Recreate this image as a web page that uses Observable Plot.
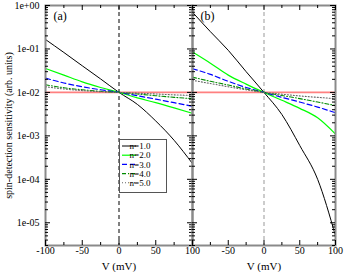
<!DOCTYPE html>
<html><head><meta charset="utf-8">
<script src="https://cdn.jsdelivr.net/npm/d3@7"></script>
<script src="https://cdn.jsdelivr.net/npm/@observablehq/plot@0.6"></script>
<style>
body{margin:0;background:#fff;}
#c{position:relative;width:346px;height:272px;background:#fff;}
#c svg{position:absolute;left:0;top:0;}
</style></head><body><div id="c"></div>
<script>
// ---- data ----
const V = [-100, -75, -50, -25, 0, 25, 50, 75, 100];
const seriesNames = ["n=1.0", "n=2.0", "n=3.0", "n=4.0", "n=5.0"];
// panel (a)
const a_n1 = [0.165, 0.083, 0.041, 0.0204, 0.01, 0.0053, 0.0022, 0.00079, 0.00023];
const a_n2 = [0.0356, 0.025, 0.0175, 0.013, 0.01, 0.0075, 0.0058, 0.0044, 0.0033];
const a_n3 = [0.0213, 0.0165, 0.0135, 0.0115, 0.01, 0.0084, 0.007, 0.0058, 0.0048];
const a_n4 = [0.015, 0.0128, 0.0115, 0.0106, 0.01, 0.0092, 0.0084, 0.0077, 0.0072];
const a_n5 = [0.0135, 0.012, 0.011, 0.0104, 0.01, 0.0096, 0.0092, 0.0088, 0.0085];
// panel (b)
const b_n1 = [0.7, 0.25, 0.093, 0.03, 0.01, 0.0031, 0.0006, 0.0001, 0.000005];
const b_n2 = [0.085, 0.047, 0.025, 0.0155, 0.01, 0.0066, 0.0043, 0.0026, 0.0011];
const b_n3 = [0.035, 0.026, 0.018, 0.013, 0.01, 0.0077, 0.006, 0.0046, 0.0034];
const b_n4 = [0.0224, 0.018, 0.0148, 0.012, 0.01, 0.0085, 0.0072, 0.006, 0.005];
const b_n5 = [0.019, 0.016, 0.0135, 0.0115, 0.01, 0.0091, 0.0083, 0.0077, 0.0072];
// reference level (red horizontal line)
const refV = [-100, 100];
const refLevel = [0.01, 0.01];
// ticks
const yDomain = [3e-6, 1];
const yMajor = [1e-5, 1e-4, 1e-3, 1e-2, 1e-1, 1];
const xMajor = [-100, -50, 0, 50, 100];
const xMinor = [-75, -25, 25, 75];
const xLabelsA = [-100, -50, 0, 50, 100];
const xLabelsB = [-50, 0, 50, 100];

// ---- styles ----
const styles = [
  {stroke: "#000000", strokeWidth: 1, dash: null},
  {stroke: "#00ff00", strokeWidth: 1.2, dash: null},
  {stroke: "#0000ff", strokeWidth: 1.2, dash: "5,3"},
  {stroke: "#008b00", strokeWidth: 1.1, dash: "4,2,1,2"},
  {stroke: "#666666", strokeWidth: 1.1, dash: "1,2"}
];
const yMinor = [];
for (let e = -6; e <= -1; e++) for (let m = 2; m <= 9; m++) {
  const v = m * Math.pow(10, e);
  if (v >= yDomain[0] && v < 1) yMinor.push(v);
}
const fmt = d => { const e = Math.round(Math.log10(d)); return "1e" + (e < 0 ? "-" : "+") + String(Math.abs(e)).padStart(2, "0"); };

const W = 346, H = 272, MT = 5, MB = 27;
const IH = H - MT - MB;
const FONT = "'Liberation Serif', 'Times New Roman', serif";

function rows(vals) { return V.map((v, i) => ({V: v, s: vals[i]})); }

function panel({x0, x1, data, tag, xLabels, showY, zeroColor}) {
  const iw = x1 - x0;
  const marks = [
    Plot.line(refV.map((v, i) => ({V: v, s: refLevel[i]})), {x: "V", y: "s", stroke: "#ff8080", strokeWidth: 1.6}),
    Plot.ruleX([0], {stroke: zeroColor, strokeDasharray: "4,3", strokeWidth: 1}),
    ...data.map((vals, k) => Plot.line(rows(vals), {x: "V", y: "s", curve: "monotone-x",
      stroke: styles[k].stroke, strokeWidth: styles[k].strokeWidth, strokeDasharray: styles[k].dash})),
    Plot.frame({stroke: "#8a8a8a", strokeWidth: 2}),
    // inward ticks on all four sides
    Plot.tickY(yMajor, {y: d => d, insetRight: iw - 5, stroke: "#000"}),
    Plot.tickY(yMinor, {y: d => d, insetRight: iw - 3, stroke: "#000"}),
    Plot.tickY(yMajor, {y: d => d, insetLeft: iw - 5, stroke: "#000"}),
    Plot.tickY(yMinor, {y: d => d, insetLeft: iw - 3, stroke: "#000"}),
    Plot.tickX(xMajor, {x: d => d, insetTop: IH - 5, stroke: "#000"}),
    Plot.tickX(xMinor, {x: d => d, insetTop: IH - 3, stroke: "#000"}),
    Plot.tickX(xMajor, {x: d => d, insetBottom: IH - 5, stroke: "#000"}),
    Plot.tickX(xMinor, {x: d => d, insetBottom: IH - 3, stroke: "#000"}),
    Plot.axisX({ticks: xLabels, tickFormat: d => String(d), tickSize: 0, tickPadding: 1.5, anchor: "bottom", label: null, fontSize: 10}),
    Plot.text(["V (mV)"], {text: d => d, frameAnchor: "bottom", textAnchor: "middle", lineAnchor: "middle", dy: 20.5, fontSize: 11}),
    Plot.text([tag], {text: d => d, frameAnchor: "top-left", textAnchor: "start", lineAnchor: "top", dx: 8, dy: 6, fontSize: 12})
  ];
  if (showY) {
    marks.push(Plot.axisY({ticks: yMajor, tickFormat: fmt, tickSize: 0, tickPadding: 6, label: null, fontSize: 10}));
    marks.push(Plot.text(["spin-detection sensitivity (arb. units)"], {text: d => d, frameAnchor: "left", textAnchor: "middle", lineAnchor: "middle", dx: -37, rotate: -90, fontSize: 10}));
  }
  return Plot.plot({
    width: W, height: H,
    marginLeft: x0, marginRight: W - x1, marginTop: MT, marginBottom: MB,
    x: {domain: [-100, 100]},
    y: {type: "log", domain: yDomain, axis: showY ? undefined : null},
    style: {background: "transparent", fontFamily: FONT, fontSize: "10px", color: "#000"},
    marks
  });
}

const pa = panel({x0: 45, x1: 192, data: [a_n1, a_n2, a_n3, a_n4, a_n5], tag: "(a)", xLabels: xLabelsA, showY: true, zeroColor: "#000"});
const pb = panel({x0: 192, x1: 335, data: [b_n1, b_n2, b_n3, b_n4, b_n5], tag: "(b)", xLabels: xLabelsB, showY: false, zeroColor: "#999"});
const c = document.getElementById("c");
c.appendChild(pa);
c.appendChild(pb);

// legend box in panel (a)
const lg = d3.select(pa).append("g").attr("font-family", FONT).attr("font-size", 9);
lg.append("rect").attr("x", 119.5).attr("y", 139.5).attr("width", 47).attr("height", 53).attr("fill", "#fff").attr("stroke", "#555").attr("stroke-width", 1);
seriesNames.forEach((name, k) => {
  const y = 146 + k * 9.2;
  lg.append("line").attr("x1", 122).attr("x2", 136).attr("y1", y).attr("y2", y)
    .attr("stroke", styles[k].stroke).attr("stroke-width", styles[k].strokeWidth)
    .attr("stroke-dasharray", styles[k].dash);
  lg.append("text").attr("x", 140).attr("y", y).attr("dy", "0.35em").text(name);
});
</script></body></html>
